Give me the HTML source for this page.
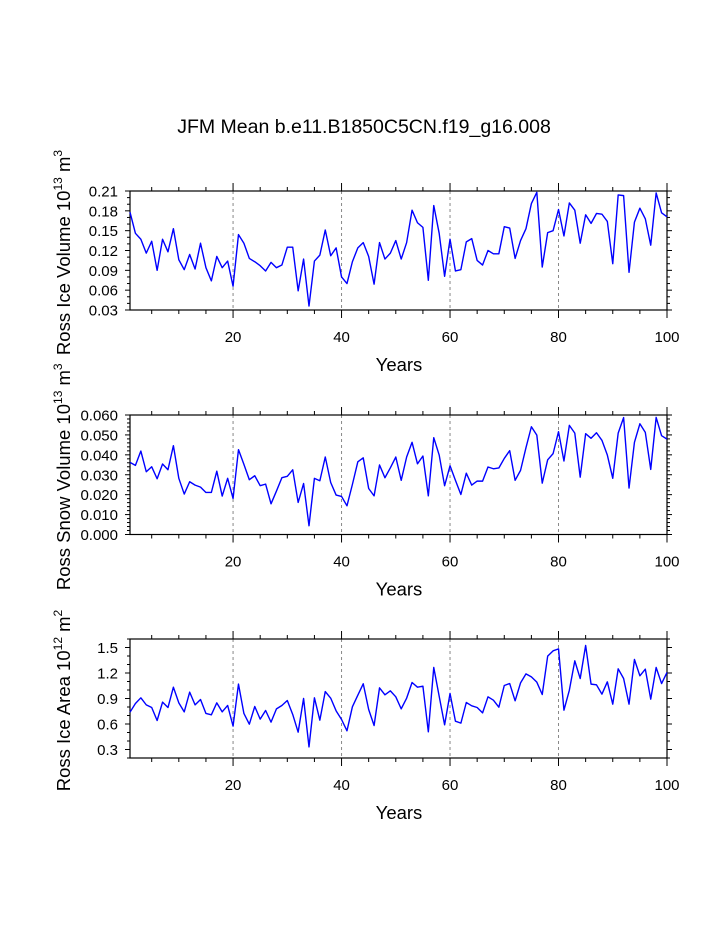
<!DOCTYPE html>
<html><head><meta charset="utf-8">
<style>
html,body{margin:0;padding:0;background:#fff;}
svg{display:block;font-family:"Liberation Sans",Helvetica,Arial,sans-serif;}
</style></head>
<body>
<svg id="chart" width="723" height="935" viewBox="0 0 723 935" xmlns="http://www.w3.org/2000/svg">
<text x="364" y="133" font-size="19.5" text-anchor="middle">JFM Mean b.e11.B1850C5CN.f19_g16.008</text>
</svg>
<script>
const years = Array.from({length:100},(_,i)=>i+1);
const iceVolume = [0.178,0.146,0.137,0.116,0.134,0.090,0.137,0.118,0.153,0.106,0.091,0.114,0.092,0.131,0.094,0.074,0.111,0.094,0.104,0.066,
0.144,0.131,0.108,0.103,0.097,0.089,0.102,0.094,0.098,0.125,0.125,0.059,0.107,0.036,0.104,0.113,0.151,0.112,0.124,0.080,
0.070,0.103,0.124,0.132,0.111,0.069,0.132,0.107,0.116,0.135,0.107,0.132,0.181,0.162,0.155,0.075,0.188,0.146,0.081,0.137,
0.089,0.091,0.133,0.138,0.105,0.098,0.120,0.115,0.115,0.156,0.154,0.108,0.135,0.153,0.191,0.208,0.095,0.147,0.150,0.182,
0.142,0.192,0.181,0.131,0.174,0.161,0.176,0.175,0.164,0.100,0.204,0.203,0.087,0.163,0.184,0.168,0.128,0.207,0.177,0.171];
const snowVolume = [0.0362,0.0347,0.0419,0.0315,0.0340,0.0280,0.0354,0.0325,0.0446,0.0282,0.0203,0.0265,0.0248,0.0238,0.0211,0.0211,0.0318,0.0193,0.0282,0.0181,
0.0426,0.0352,0.0275,0.0295,0.0245,0.0253,0.0154,0.0218,0.0285,0.0292,0.0325,0.0161,0.0256,0.0044,0.0282,0.0270,0.0389,0.0261,0.0198,0.0191,
0.0144,0.0251,0.0365,0.0385,0.0231,0.0194,0.0349,0.0285,0.0335,0.0389,0.0272,0.0389,0.0463,0.0355,0.0394,0.0194,0.0486,0.0399,0.0245,0.0345,
0.0272,0.0201,0.0308,0.0248,0.0268,0.0268,0.0339,0.0330,0.0334,0.0382,0.0421,0.0272,0.0322,0.0436,0.0541,0.0499,0.0258,0.0375,0.0406,0.0516,
0.0369,0.0548,0.0509,0.0288,0.0506,0.0483,0.0511,0.0473,0.0399,0.0282,0.0509,0.0587,0.0233,0.0463,0.0556,0.0513,0.0327,0.0588,0.0496,0.0479];
const iceArea = [0.739,0.841,0.908,0.825,0.794,0.641,0.857,0.794,1.033,0.849,0.743,0.975,0.825,0.888,0.724,0.708,0.849,0.743,0.818,0.575,
1.069,0.724,0.598,0.806,0.657,0.759,0.622,0.778,0.818,0.876,0.712,0.504,0.900,0.331,0.908,0.645,0.982,0.904,0.755,0.653,
0.520,0.802,0.939,1.073,0.771,0.582,1.025,0.943,0.990,0.920,0.778,0.904,1.088,1.033,1.045,0.508,1.265,0.927,0.590,0.959,
0.633,0.610,0.853,0.814,0.794,0.731,0.920,0.880,0.798,1.053,1.076,0.873,1.084,1.190,1.155,1.092,0.947,1.398,1.461,1.484,
0.763,0.998,1.343,1.135,1.524,1.069,1.061,0.951,1.096,0.833,1.249,1.135,0.833,1.359,1.167,1.245,0.892,1.265,1.076,1.206];
const xTickLabels = [20,40,60,80,100];
const iceTicks = ["0.03","0.06","0.09","0.12","0.15","0.18","0.21"];
const snowTicks = ["0.000","0.010","0.020","0.030","0.040","0.050","0.060"];
const areaTicks = ["0.3","0.6","0.9","1.2","1.5"];

const NS="http://www.w3.org/2000/svg";
const svg=document.getElementById('chart');
function mk(tag,attrs,parent){const e=document.createElementNS(NS,tag);for(const k in attrs)e.setAttribute(k,attrs[k]);(parent||svg).appendChild(e);return e;}

const L=130,R=667;
function xs(v){return L+(v-1)/99*(R-L);}

function panel(cfg){
  const g=mk('g',{});
  
  
  const T=cfg.top,B=cfg.bottom;
  const ys=v=>B-(v-cfg.ymin)/(cfg.ymax-cfg.ymin)*(B-T);
  [20,40,60,80].forEach(y=>{
    const l=mk('line',{x1:xs(y),x2:xs(y),y1:T,y2:B,stroke:'#888','stroke-width':1,'stroke-dasharray':'3,3'},g);
    
    
  });
  for(let y=5;y<=100;y+=5){
    const major=y%20===0, len=major?8:4;
    mk('line',{x1:xs(y),x2:xs(y),y1:B,y2:B+len,stroke:'#000','stroke-width':1},g);
    mk('line',{x1:xs(y),x2:xs(y),y1:T,y2:T-len,stroke:'#000','stroke-width':1},g);
  }
  xTickLabels.forEach(v=>{
    const t=mk('text',{x:xs(v),y:B+32,'font-size':15,'text-anchor':'middle'},g);
    t.textContent=v;
    
    
  });
  for(let v=cfg.ymin;v<=cfg.ymax+1e-9;v+=cfg.minor){
    const r=Math.round((v-cfg.first)/cfg.major*1000)/1000;
    const major=v>=cfg.first-1e-9 && Math.abs(r-Math.round(r))<1e-6;
    const len=major?5:3, yy=ys(v);
    mk('line',{x1:L,x2:L-len,y1:yy,y2:yy,stroke:'#000','stroke-width':1},g);
    mk('line',{x1:R,x2:R+len,y1:yy,y2:yy,stroke:'#000','stroke-width':1},g);
  }
  cfg.labels.forEach(s=>{
    const t=mk('text',{x:L-12,y:ys(parseFloat(s))+5.5,'font-size':15,'text-anchor':'end'},g);
    t.textContent=s;
    
    
  });
  const fr=mk('rect',{x:L,y:T,width:R-L,height:B-T,fill:'none',stroke:'#000','stroke-width':1.2},g);
  
  
  const pts=cfg.data.map((v,i)=>xs(years[i]).toFixed(2)+','+ys(v).toFixed(2)).join(' ');
  const pl=mk('polyline',{points:pts,fill:'none',stroke:'#0000ff','stroke-width':1.4,'stroke-linejoin':'round'},g);
  
  
  const xt=mk('text',{x:399,y:B+61,'font-size':18.5,'text-anchor':'middle'},g);
  xt.textContent='Years';
  
  
  const cy=(T+B)/2+2;
  const yt=mk('text',{transform:`translate(70,${cy}) rotate(-90)`,'font-size':18.5,'text-anchor':'middle'},g);
  
  
  yt.innerHTML=cfg.ytitle;
}

panel({name:'ice-volume-panel',top:191,bottom:310,ymin:0.03,ymax:0.21,first:0.03,major:0.03,minor:0.01,labels:iceTicks,data:iceVolume,
  ytitle:'Ross Ice Volume 10<tspan dy="-8" font-size="12">13</tspan><tspan dy="8"> m</tspan><tspan dy="-8" font-size="12">3</tspan>'});
panel({name:'snow-volume-panel',top:415,bottom:534.5,ymin:0,ymax:0.06,first:0,major:0.01,minor:0.002,labels:snowTicks,data:snowVolume,
  ytitle:'Ross Snow Volume 10<tspan dy="-8" font-size="12">13</tspan><tspan dy="8"> m</tspan><tspan dy="-8" font-size="12">3</tspan>'});
panel({name:'ice-area-panel',top:639,bottom:758,ymin:0.2,ymax:1.6,first:0.3,major:0.3,minor:0.1,labels:areaTicks,data:iceArea,
  ytitle:'Ross Ice Area 10<tspan dy="-8" font-size="12">12</tspan><tspan dy="8"> m</tspan><tspan dy="-8" font-size="12">2</tspan>'});
</script>
</body></html>
